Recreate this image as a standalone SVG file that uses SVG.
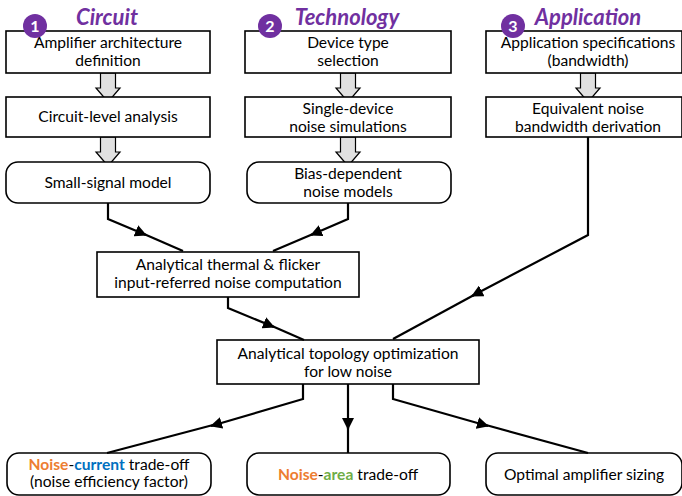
<svg xmlns="http://www.w3.org/2000/svg" width="682" height="496" viewBox="0 0 682 496">
<style>
.box{fill:#fff;stroke:#000;stroke-width:1.6}
.t{font-family:Lato,"Open Sans","Liberation Sans",sans-serif;font-size:15.6px;fill:#000;text-anchor:middle}
.title{font-family:Lato,"Open Sans","Liberation Sans",sans-serif;font-size:22px;font-weight:bold;font-style:italic;fill:#7030A0;text-anchor:middle}
.badge{fill:#7030A0}
.bt{font-family:Lato,"Open Sans","Liberation Sans",sans-serif;font-size:16px;font-weight:bold;fill:#fff;text-anchor:middle}
.big{fill:#e0e0e0;stroke:#000;stroke-width:1.2}
.c{fill:none;stroke:#000;stroke-width:2.2}
.o{fill:#ED7D31;font-weight:bold}
.b{fill:#0070C0;font-weight:bold}
.g{fill:#70AD47;font-weight:bold}
</style>
<defs>
<marker id="ah" markerWidth="12" markerHeight="12" viewBox="0 0 12 12" refX="11" refY="6" orient="auto" markerUnits="userSpaceOnUse">
<path d="M0,0 L12,6 L0,12 Z" fill="#000"/>
</marker>
<path id="bigArrow" d="M-7.5,0 H7.5 V15 H12 L0,29 L-12,15 H-7.5 Z"/>
</defs>

<g id="big-arrows">
<use href="#bigArrow" class="big" x="108" y="73"/>
<use href="#bigArrow" class="big" x="108" y="137"/>
<use href="#bigArrow" class="big" x="348" y="73"/>
<use href="#bigArrow" class="big" x="348" y="137"/>
<use href="#bigArrow" class="big" x="588" y="73"/>
</g>

<g id="n-arch"><rect class="box" x="6" y="31" width="204" height="42"/>
<text class="t" x="108" y="48">Amplifier architecture</text><text class="t" x="108" y="66">definition</text></g>
<g id="n-circuit"><rect class="box" x="6" y="97" width="204" height="40"/>
<text class="t" x="108" y="122">Circuit-level analysis</text></g>
<g id="n-small"><rect class="box" x="6" y="162" width="204" height="41" rx="12"/>
<text class="t" x="108" y="188">Small-signal model</text></g>

<g id="n-device"><rect class="box" x="245" y="31" width="206" height="42"/>
<text class="t" x="348" y="48">Device type</text><text class="t" x="348" y="66">selection</text></g>
<g id="n-sim"><rect class="box" x="245" y="97" width="206" height="40"/>
<text class="t" x="348" y="114">Single-device</text><text class="t" x="348" y="132">noise simulations</text></g>
<g id="n-bias"><rect class="box" x="247" y="162" width="204" height="41" rx="12"/>
<text class="t" x="348" y="179">Bias-dependent</text><text class="t" x="348" y="197">noise models</text></g>

<g id="n-spec"><rect class="box" x="486" y="31" width="196" height="42"/>
<text class="t" x="588" y="48">Application specifications</text><text class="t" x="588" y="66">(bandwidth)</text></g>
<g id="n-enb"><rect class="box" x="486" y="97" width="196" height="40"/>
<text class="t" x="588" y="114">Equivalent noise</text><text class="t" x="588" y="132">bandwidth derivation</text></g>

<g id="n-thermal"><rect class="box" x="97" y="252" width="262" height="45"/>
<text class="t" x="228" y="270">Analytical thermal &amp; flicker</text><text class="t" x="228" y="288">input-referred noise computation</text></g>

<g id="n-topo"><rect class="box" x="217" y="340" width="262" height="44"/>
<text class="t" x="348" y="359">Analytical topology optimization</text><text class="t" x="348" y="377">for low noise</text></g>

<g id="n-current"><rect class="box" x="7" y="453" width="204" height="42" rx="12"/>
<text class="t" x="109" y="470"><tspan class="o">Noise</tspan>-<tspan class="b">current</tspan> trade-off</text>
<text class="t" x="109" y="487">(noise efficiency factor)</text></g>
<g id="n-area"><rect class="box" x="247" y="453" width="203" height="42" rx="12"/>
<text class="t" x="348" y="480"><tspan class="o">Noise</tspan>-<tspan class="g">area</tspan> trade-off</text></g>
<g id="n-sizing"><rect class="box" x="486" y="453" width="196" height="42" rx="12"/>
<text class="t" x="584" y="480">Optimal amplifier sizing</text></g>

<g id="titles">
<circle class="badge" cx="35" cy="26" r="12"/><text class="bt" x="35" y="31.5">1</text>
<text class="title" x="107" y="25">Circuit</text>
<circle class="badge" cx="270" cy="26" r="12"/><text class="bt" x="270" y="31.5">2</text>
<text class="title" x="347" y="25">Technology</text>
<circle class="badge" cx="513" cy="26" r="12"/><text class="bt" x="513" y="31.5">3</text>
<text class="title" x="588" y="25">Application</text>
</g>

<g id="connectors">
<path class="c" d="M108,203 V219 L146,235" marker-end="url(#ah)"/><path class="c" d="M144,234 L183,251"/>
<path class="c" d="M348,203 V219 L311,235" marker-end="url(#ah)"/><path class="c" d="M313,234 L273,251"/>
<path class="c" d="M588,137 V235 L472,296" marker-end="url(#ah)"/><path class="c" d="M474,295 L393,339"/>
<path class="c" d="M228,297 V308 L274,327" marker-end="url(#ah)"/><path class="c" d="M272,326 L304,340"/>
<path class="c" d="M303,384 V399 L211,426" marker-end="url(#ah)"/><path class="c" d="M213,425 L107,453"/>
<path class="c" d="M348,384 V429" marker-end="url(#ah)"/><path class="c" d="M348,427 V453"/>
<path class="c" d="M393,384 V399 L488,426" marker-end="url(#ah)"/><path class="c" d="M486,425 L588,453"/>
</g>
</svg>
